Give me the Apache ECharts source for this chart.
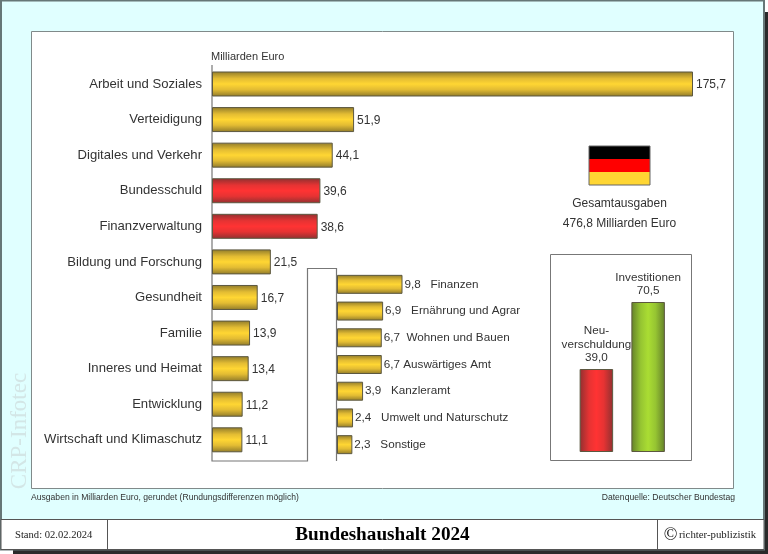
<!DOCTYPE html>
<html><head><meta charset="utf-8">
<style>html,body{margin:0;padding:0;background:#fff}#c{width:768px;height:554px}</style>
<script src="https://cdn.jsdelivr.net/npm/echarts@6/dist/echarts.min.js"></script>
</head><body><div id="c"></div>
<script>
const mainCategories = ['Arbeit und Soziales','Verteidigung','Digitales und Verkehr','Bundesschuld','Finanzverwaltung','Bildung und Forschung','Gesundheit','Familie','Inneres und Heimat','Entwicklung','Wirtschaft und Klimaschutz'];
const mainValues = [175.7,51.9,44.1,39.6,38.6,21.5,16.7,13.9,13.4,11.2,11.1];
const redCategories = ['Bundesschuld','Finanzverwaltung'];
const smallCategories = ['Finanzen','Ernährung und Agrar','Wohnen und Bauen','Auswärtiges Amt','Kanzleramt','Umwelt und Naturschutz','Sonstige'];
const smallValues = [9.8,6.9,6.7,6.7,3.9,2.4,2.3];
const smallLabelSpaces = [3,3,2,1,3,3,3];
const sideCategories = ['Neu-\nverschuldung','Investitionen'];
const sideValues = [39.0,70.5];

const de = v => v.toFixed(1).replace('.', ',');
const ramp = (edge, soft, mid) => [{offset:0,color:edge},{offset:.28,color:soft},{offset:.5,color:mid},{offset:.72,color:soft},{offset:1,color:edge}];
const vGrad = (edge, soft, mid) => new echarts.graphic.LinearGradient(0,0,0,1,ramp(edge,soft,mid));
const hGrad = (edge, soft, mid) => new echarts.graphic.LinearGradient(0,0,1,0,ramp(edge,soft,mid));
const gold = () => vGrad('#8f7a2a','#e3bc33','#ffd633');
const red = () => vGrad('#8f3030','#e63333','#ff3333');
const barBorder = {borderColor:'#5c5840',borderWidth:1};
const sans = '"Liberation Sans", Arial, sans-serif';
const serif = '"Liberation Serif", "Times New Roman", serif';
const txt = '#333';

const T = (text,x,y,font,fill,align,extra) => Object.assign({type:'text',x,y,silent:true,style:{text,font,fill:fill||txt,textAlign:align||'left',textVerticalAlign:'middle'}},extra||{});
const R = (x,y,w,h,fill,stroke,lw) => ({type:'rect',silent:true,shape:{x,y,width:w,height:h},style:{fill,stroke:stroke||null,lineWidth:lw||0}});

const chart = echarts.init(document.getElementById('c'),null,{renderer:'canvas'});
chart.setOption({
  animation:false,
  backgroundColor:'#ffffff',
  graphic:{elements:[
    R(13,12,755,542,'#2a2a2a'),
    R(1,0.5,763,549,'#e0ffff','#667777',2),
    R(1,519.5,763,30,'#ffffff','#555555',1),
    {type:'line',silent:true,shape:{x1:107.5,y1:519.5,x2:107.5,y2:549.5},style:{stroke:'#555',lineWidth:1}},
    {type:'line',silent:true,shape:{x1:657.5,y1:519.5,x2:657.5,y2:549.5},style:{stroke:'#555',lineWidth:1}},
    R(31.5,31.5,702,457,'#ffffff','#808a8a',1),
    {type:'polyline',silent:true,shape:{points:[[212,65],[212,461],[307.5,461],[307.5,268.5],[336.5,268.5],[336.5,461]]},style:{stroke:'#777',lineWidth:1.2,fill:null}},
    R(550.5,254.5,141,206,'#ffffff','#777',1),
    R(589,146,61,13,'#000000'),
    R(589,159,61,13,'#ff0000'),
    R(589,172,61,13,'#ffd633'),
    R(589,146,61,39,null,'#666',1),
    T('Milliarden Euro',211,57,'11px '+sans),
    T('Gesamtausgaben',619.5,204,'12px '+sans,txt,'center'),
    T('476,8 Milliarden Euro',619.5,224,'12px '+sans,txt,'center'),
    T('Ausgaben in Milliarden Euro, gerundet (Rundungsdifferenzen möglich)',31,498,'8.6px '+sans),
    T('Datenquelle: Deutscher Bundestag',735,498,'8.6px '+sans,txt,'right'),
    T('Stand: 02.02.2024',15,535,'10.6px '+serif,'#222'),
    T('Bundeshaushalt 2024',382.5,535,'bold 19.2px '+serif,'#000','center'),
    T('©',670.5,535,'18px '+serif,'#111','center'),
    T('richter-publizistik',679,535,'10.8px '+serif,'#222'),
    T('CRP-Infotec',0,0,'23px '+serif,'#d3e6e6','center',{x:20,y:431,rotation:Math.PI/2})
  ]},
  grid:[
    {left:212,top:66.2,width:481,height:391.4},
    {left:337,top:271,width:65.5,height:187},
    {left:570.5,top:302,width:103.5,height:150}
  ],
  xAxis:[
    {gridIndex:0,type:'value',min:0,max:175.7,show:false},
    {gridIndex:1,type:'value',min:0,max:9.8,show:false},
    {gridIndex:2,type:'category',data:sideCategories,show:false}
  ],
  yAxis:[
    {gridIndex:0,type:'category',inverse:true,data:mainCategories,axisLine:{show:false},axisTick:{show:false},
     axisLabel:{margin:10,fontFamily:sans,fontSize:13.1,color:txt,padding:[2,0,0,0]}},
    {gridIndex:1,type:'category',inverse:true,data:smallCategories,show:false},
    {gridIndex:2,type:'value',min:0,max:70.5,show:false}
  ],
  series:[
    {type:'bar',xAxisIndex:0,yAxisIndex:0,barWidth:25,
     data:mainValues.map((v,i)=>({value:v,itemStyle:Object.assign({color:redCategories.includes(mainCategories[i])?red():gold()},barBorder)})),
     label:{show:true,position:'right',distance:3,offset:[0,1],fontFamily:sans,fontSize:12,color:txt,formatter:p=>de(p.value)}},
    {type:'bar',xAxisIndex:1,yAxisIndex:1,barWidth:19,
     data:smallValues.map(v=>({value:v,itemStyle:Object.assign({color:gold()},barBorder)})),
     label:{show:true,position:'right',distance:2,offset:[0,0],fontFamily:sans,fontSize:11.7,color:txt,
       formatter:p=>de(p.value)+' '.repeat(smallLabelSpaces[p.dataIndex])+smallCategories[p.dataIndex]}},
    {type:'bar',xAxisIndex:2,yAxisIndex:2,barWidth:33.5,
     data:sideValues.map((v,i)=>({value:v,itemStyle:Object.assign({color:i===0?hGrad('#8f3030','#e63333','#ff3333'):hGrad('#64802a','#96c532','#aadd33')},barBorder)})),
     label:{show:true,position:'top',distance:4,fontFamily:sans,fontSize:11.7,lineHeight:13.5,color:txt,align:'center',
       formatter:p=>sideCategories[p.dataIndex]+'\n'+de(p.value)}}
  ]
});
</script></body></html>
